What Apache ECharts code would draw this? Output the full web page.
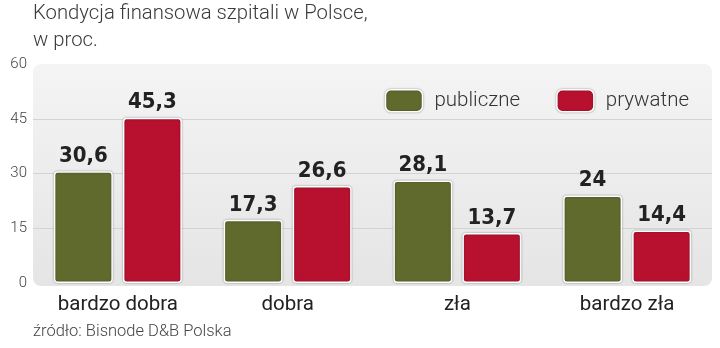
<!DOCTYPE html>
<html><head><meta charset="utf-8">
<script src="https://cdn.jsdelivr.net/npm/echarts@6/dist/echarts.min.js"></script>
<style>html,body{margin:0;padding:0;background:#fff}#c{width:720px;height:348px}</style>
</head><body><div id="c"></div>
<script>
const categories = ['bardzo dobra', 'dobra', 'zła', 'bardzo zła'];
const publiczne = [30.6, 17.3, 28.1, 24];
const prywatne = [45.3, 26.6, 13.7, 14.4];
const yTicks = [0, 15, 30, 45, 60];
const titleLines = ['Kondycja finansowa szpitali w Polsce,', 'w proc.'];
const sourceText = 'źródło: Bisnode D&B Polska';

const chart = echarts.init(document.getElementById('c'), null, {renderer: 'canvas'});
const labelFont = "'DejaVu Sans Condensed','Liberation Sans Narrow',sans-serif";
const fmt = p => String(p.value).replace('.', ',');
const barStyle = c => ({color: c, borderColor: '#fff', borderWidth: 1.5, borderRadius: 3, shadowBlur: 2, shadowColor: 'rgba(0,0,0,0.35)'});
chart.setOption({
  animation: false,
  textStyle: {fontFamily: 'Roboto, sans-serif'},
  graphic: [
    {type: 'rect', z: -10, shape: {x: 33, y: 64, width: 679, height: 222, r: 8},
     style: {fill: {type: 'linear', x: 0, y: 0, x2: 0, y2: 1, colorStops: [{offset: 0, color: '#f4f4f4'}, {offset: 1, color: '#e5e5e5'}]}}},
    {type: 'text', left: 33, top: 0, style: {text: titleLines.join('\n'), font: '300 20.3px Roboto', fill: '#3a3a3a', lineHeight: 27}},
    {type: 'text', left: 33, top: 323, style: {text: sourceText, font: '300 16.5px Roboto', fill: '#444'}}
  ],
  legend: {
    right: 26, top: 84, itemWidth: 37, itemHeight: 22, itemGap: 36,
    textStyle: {fontSize: 20.5, fontWeight: 300, color: '#333', padding: [0, 0, 0, 7]},
    itemStyle: {borderColor: '#fff', borderWidth: 1.5, borderRadius: 4, shadowBlur: 2, shadowColor: 'rgba(0,0,0,0.35)'},
    data: ['publiczne', 'prywatne']
  },
  grid: {left: 33, right: 8, top: 64, bottom: 65},
  xAxis: {
    type: 'category', data: categories,
    axisLine: {show: false}, axisTick: {show: false},
    axisLabel: {fontSize: 20.5, color: '#222', margin: 11}
  },
  yAxis: {
    type: 'value', min: yTicks[0], max: yTicks[yTicks.length - 1], interval: 15,
    axisLine: {show: false}, axisTick: {show: false},
    axisLabel: {fontSize: 15, fontWeight: 300, color: '#444', margin: 6},
    splitLine: {lineStyle: {color: ['transparent', '#d3d3d3', '#d3d3d3', '#d3d3d3', 'transparent'], width: 1}}
  },
  series: [
    {name: 'publiczne', type: 'bar', data: publiczne, barWidth: 59, barGap: '17%',
     itemStyle: barStyle('#616a2d'),
     label: {show: true, position: 'top', distance: 4, formatter: fmt, fontFamily: labelFont, fontWeight: 'bold', fontSize: 22, color: '#222'}},
    {name: 'prywatne', type: 'bar', data: prywatne, barWidth: 59,
     itemStyle: barStyle('#b7112f'),
     label: {show: true, position: 'top', distance: 4, formatter: fmt, fontFamily: labelFont, fontWeight: 'bold', fontSize: 22, color: '#222'}}
  ]
});
</script></body></html>
